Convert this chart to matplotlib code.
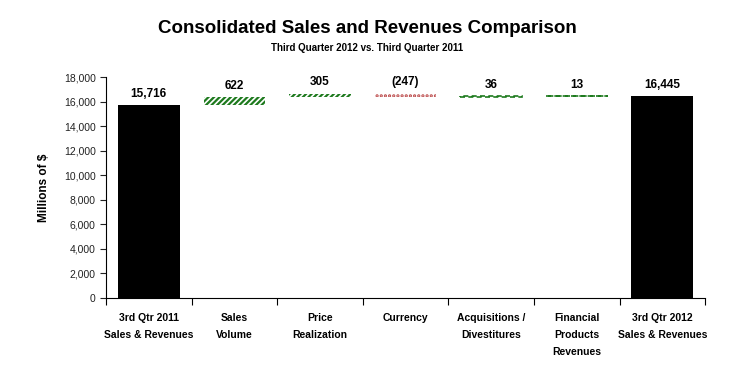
import numpy as np
import matplotlib.pyplot as plt
from matplotlib.ticker import FuncFormatter

plt.rcParams['font.family'] = ['Liberation Sans', 'DejaVu Sans']
plt.rcParams['hatch.linewidth'] = 1.6

categorias = ['3rd Qtr 2011\nSales & Revenues', 'Sales\nVolume', 'Price\nRealization',
              'Currency', 'Acquisitions /\nDivestitures', 'Financial\nProducts\nRevenues',
              '3rd Qtr 2012\nSales & Revenues']
inicio = 15716
variacoes = [622, 305, -247, 36, 13]
final = 16445
rotulos = ['15,716', '622', '305', '(247)', '36', '13', '16,445']

fig = plt.figure(figsize=(7.47, 3.79), dpi=100)
ax = fig.add_axes([0.1419, 0.2137, 0.802, 0.583])

x = np.arange(len(categorias))
largura = 0.72
verde = '#1e7a1e'
vermelho = '#b84040'

# barras totais
ax.bar([0, 6], [inicio, final], width=largura, color='black')

# barras flutuantes
nivel = inicio
topos = [inicio]
for i, v in enumerate(variacoes):
    base = min(nivel, nivel + v)
    if i < 2:
        ax.bar(i + 1, abs(v), bottom=base, width=largura, facecolor='white',
               edgecolor=verde, hatch='//////', linewidth=0)
    elif i == 2:
        ax.bar(i + 1, abs(v), bottom=base, width=largura, facecolor='white',
               edgecolor=vermelho, hatch='....', linewidth=0)
    else:
        ax.bar(i + 1, abs(v), bottom=base, width=largura, facecolor='none',
               edgecolor=verde, linestyle=(0, (3, 2)), linewidth=1.2)
    nivel += v
    topos.append(max(base + abs(v), nivel))
topos.append(final)

for i, t in enumerate(rotulos):
    ax.annotate(t, (x[i], topos[i]), xytext=(0, 4), textcoords='offset points',
                ha='center', va='bottom', fontsize=8.5, fontweight='bold')

ax.set_xlim(-0.5, 6.5)
ax.set_ylim(0, 18000)
ax.set_yticks(np.arange(0, 18001, 2000))
ax.yaxis.set_major_formatter(FuncFormatter(lambda v, p: f'{v:,.0f}'))
ax.tick_params(axis='y', labelsize=7.5, length=4, direction='out', colors='#222222')

ax.set_xticks(np.arange(-0.5, 6.6, 1))
ax.set_xticklabels([])
ax.tick_params(axis='x', which='major', length=5, direction='out')
ax.set_xticks(x, minor=True)
ax.set_xticklabels(categorias, minor=True, fontsize=7.5, fontweight='bold', linespacing=1.85)
ax.tick_params(axis='x', which='minor', length=0, pad=11)

ax.spines['top'].set_visible(False)
ax.spines['right'].set_visible(False)
ax.set_ylabel('Millions of $', fontsize=8.5, fontweight='bold', labelpad=10)

fig.text(0.492, 0.926, 'Consolidated Sales and Revenues Comparison', ha='center', va='center',
         fontsize=13.5, fontweight='bold')
fig.text(0.492, 0.873, 'Third Quarter 2012 vs. Third Quarter 2011', ha='center', va='center',
         fontsize=7, fontweight='bold')

fig.savefig('out.png', dpi=100)
